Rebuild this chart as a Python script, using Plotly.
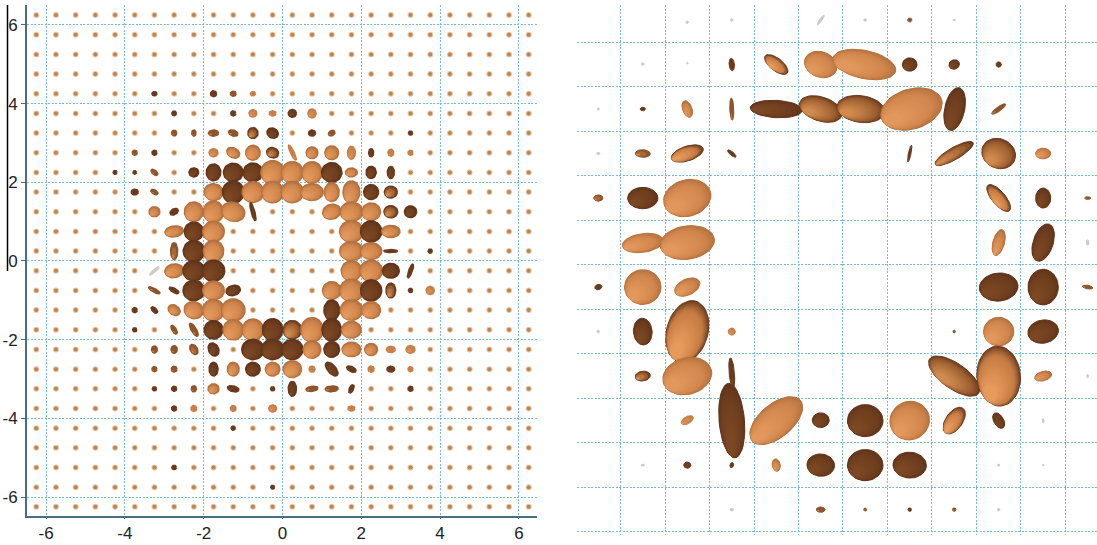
import math
import plotly.graph_objects as go

# Tone codes: 0 light, 1 half-shaded, 2 dark, 3 faint, 4 light with a dark rim
# ---- left panel, field of ellipsoids: one list per row, (x, semi-a, semi-b, angle, tone)
GRID_VALUES = [-6.25, -5.75, -5.25, -4.75, -4.25, -3.75, -3.25, -2.75, -2.25, -1.75, -1.25, -0.75, -0.25,
               0.25, 0.75, 1.25, 1.75, 2.25, 2.75, 3.25, 3.75, 4.25, 4.75, 5.25, 5.75, 6.25]
TICK_VALUES = [-6, -4, -2, 0, 2, 4, 6]
TICK_LABELS = ["-6", "-4", "-2", "0", "2", "4", "6"]

L_425 = [(-3.25, .06, .05, 0, 2), (-1.75, .075, .07, 0, 2), (-1.25, .07, .06, 0, 1), (-.75, .06, .05, 0, 0)]
L_375 = [(-2.75, .055, .055, 0, 2), (-1.25, .06, .06, 0, 2), (-.75, .095, .09, 0, 0), (-.25, .085, .06, 0, 0),
         (.25, .10, .095, 0, 2), (.75, .11, .10, 90, 0)]
L_325 = [(-2.75, .07, .06, 90, 1), (-2.25, .075, .05, 90, 1), (-1.75, .125, .075, 0, 1), (-1.25, .12, .07, -20, 1),
         (-.75, .135, .125, 90, 1), (-.25, .145, .12, -30, 2), (.75, .085, .075, 0, 2), (1.25, .085, .06, 30, 1),
         (3.25, .05, .05, 0, 2)]
L_275 = [(-3.75, .06, .06, 0, 1), (-3.25, .06, .06, 0, 2), (-1.75, .11, .10, 0, 0), (-1.25, .17, .12, -30, 0),
         (-.75, .185, .18, 90, 0), (-.25, .15, .125, -20, 1), (.25, .21, .042, -65, 0), (.75, .145, .145, 0, 0),
         (1.25, .17, .17, 0, 0), (1.75, .16, .095, 90, 0), (2.25, .10, .06, 90, 2), (2.75, .085, .07, 90, 0),
         (3.25, .06, .06, 0, 0)]
L_225 = [(-3.75, .04, .04, 0, 2), (-3.25, .10, .05, -40, 1), (-2.25, .12, .11, 0, 2), (-1.75, .21, .18, 90, 2),
         (-1.25, .245, .23, 0, 2), (-.75, .245, .235, 0, 2), (-.25, .295, .295, 0, 0), (.25, .27, .27, 0, 0),
         (.75, .27, .255, 90, 0), (1.25, .255, .245, 0, 2), (1.75, .145, .11, 0, 0), (2.25, .15, .125, 90, 2),
         (2.75, .15, .085, 90, 2)]
L_175 = [(-3.75, .085, .07, 0, 2), (-3.25, .095, .05, -30, 1), (-1.75, .235, .21, -10, 0), (-1.25, .28, .27, 90, 2),
         (-.75, .27, .26, 0, 0), (-.25, .27, .27, 0, 0), (.25, .28, .265, 0, 0), (.75, .28, .21, 0, 0),
         (1.25, .235, .185, 90, 0), (1.75, .28, .21, 90, 0), (2.25, .185, .185, 0, 2), (2.75, .16, .145, 0, 1)]
L_125 = [(-3.25, .135, .125, 0, 0), (-2.75, .11, .07, 30, 2), (-2.25, .245, .235, 90, 0), (-1.75, .27, .255, 90, 0),
         (-1.25, .295, .235, -20, 0), (-.75, .235, .042, -75, 2), (1.25, .23, .185, 15, 0), (1.75, .28, .245, 0, 0),
         (2.25, .235, .22, 0, 0), (2.75, .17, .15, 0, 1), (3.25, .15, .145, 0, 2)]
L_075 = [(-2.75, .23, .135, 8, 0), (-2.25, .24, .235, 0, 2), (-1.75, .27, .255, 0, 0), (1.75, .295, .27, 0, 0),
         (2.25, .265, .265, 0, 2), (2.75, .23, .15, 0, 0)]
L_025 = [(-2.75, .21, .085, 90, 1), (-2.25, .265, .265, 0, 2), (-1.75, .27, .255, 90, 0), (1.75, .295, .235, 0, 0),
         (2.25, .265, .21, 0, 0), (2.75, .17, .034, 0, 2), (3.75, .05, .05, 0, 2)]
L_M025 = [(-3.25, .15, .025, 40, 3), (-2.75, .235, .17, 8, 0), (-2.25, .27, .255, 0, 2), (-1.75, .28, .265, 0, 2),
          (1.75, .255, .255, 0, 0), (2.25, .28, .265, 0, 0), (2.75, .21, .185, 0, 2), (3.25, .185, .042, 70, 2)]
L_M075 = [(-3.25, .16, .042, -30, 1), (-2.75, .135, .05, -30, 2), (-2.25, .27, .255, 0, 2), (-1.75, .27, .235, 0, 0),
          (-1.25, .18, .125, 15, 2), (1.25, .23, .22, 0, 0), (1.75, .295, .28, 0, 0), (2.25, .265, .265, 0, 2),
          (2.75, .185, .12, 90, 1), (3.25, .05, .05, 0, 2), (3.75, .10, .10, 0, 0)]
L_M125 = [(-3.75, .06, .06, 0, 2), (-3.25, .10, .05, -45, 2), (-2.75, .16, .12, -35, 0), (-2.25, .245, .21, -20, 0),
          (-1.75, .27, .27, 0, 0), (-1.25, .295, .28, 0, 0), (1.25, .255, .195, 90, 2), (1.75, .28, .255, 0, 0),
          (2.25, .235, .21, 0, 0)]
L_M175 = [(-3.75, .05, .05, 0, 2), (-2.75, .125, .05, -60, 1), (-2.25, .185, .06, -60, 1), (-1.75, .235, .23, 0, 2),
          (-1.25, .255, .255, 0, 0), (-.75, .27, .265, 90, 0), (-.25, .28, .255, 90, 2), (.25, .23, .23, 0, 1),
          (.75, .305, .28, 90, 0), (1.25, .28, .245, 90, 2), (1.75, .245, .21, 0, 0)]
L_M225 = [(-3.25, .085, .07, 90, 1), (-2.75, .095, .075, 90, 1), (-2.25, .135, .085, -60, 1), (-1.75, .17, .125, -65, 2),
          (-.75, .28, .255, 0, 2), (-.25, .28, .255, 0, 2), (.25, .265, .255, 0, 2), (.75, .22, .22, 0, 0),
          (1.25, .195, .195, 0, 2), (1.75, .235, .18, 0, 0), (2.25, .16, .15, 0, 0), (2.75, .11, .075, 0, 0),
          (3.25, .11, .095, 0, 0)]
L_M275 = [(-3.25, .06, .06, 0, 1), (-2.75, .07, .07, 0, 1), (-1.75, .17, .11, 90, 2), (-1.25, .17, .145, 90, 0),
          (-.75, .18, .17, 0, 2), (-.25, .18, .17, 0, 0), (.25, .23, .21, 0, 0), (.75, .075, .07, 90, 0),
          (1.25, .21, .10, -50, 2), (1.75, .125, .06, -25, 2), (2.25, .075, .075, 0, 0), (2.75, .095, .07, 0, 2),
          (3.25, .06, .06, 0, 0)]
L_M325 = [(-3.25, .05, .05, 0, 2), (-2.75, .06, .06, 0, 2), (-2.25, .075, .06, 90, 1), (-1.75, .135, .125, 0, 0),
          (-1.25, .145, .07, -15, 2), (-.25, .05, .05, 0, 2), (.25, .185, .10, 90, 2), (.75, .15, .06, 8, 1),
          (1.25, .16, .07, 3, 1), (1.75, .11, .05, 65, 2), (3.25, .06, .06, 0, 2)]
L_M375 = [(-2.75, .06, .06, 0, 2), (-2.25, .07, .07, 0, 0), (-1.25, .07, .07, 0, 0), (-.25, .095, .085, 0, 0),
          (1.75, .085, .06, 0, 0)]
L_M425 = [(-1.25, .05, .05, 0, 2)]
L_M525 = [(-2.75, .055, .05, 0, 2)]
L_M575 = [(-.25, .045, .045, 0, 2)]
L_P225_OUTER = [(-4.25, .045, .045, 0, 2)]

LEFT_ROWS = {4.25: L_425, 3.75: L_375, 3.25: L_325, 2.75: L_275, 2.25: L_225 + L_P225_OUTER, 1.75: L_175,
             1.25: L_125, 0.75: L_075, 0.25: L_025, -0.25: L_M025, -0.75: L_M075, -1.25: L_M125, -1.75: L_M175,
             -2.25: L_M225, -2.75: L_M275, -3.25: L_M325, -3.75: L_M375, -4.25: L_M425, -5.25: L_M525,
             -5.75: L_M575}

# ---- right panel, enlarged view: one list per row, (column, row, semi-a, semi-b, angle, tone)
R_ROW0 = [(2, .05, .03, .03, 0, 3), (3, 0, .03, .03, 0, 3), (5, 0, .13, .03, 55, 3), (6, 0, .03, .03, 0, 3),
          (7, 0, .05, .045, 0, 1), (8, 0, .03, .02, 0, 3)]
R_ROW1 = [(1, .99, .03, .03, 0, 3), (2, .97, .02, .02, 0, 3), (3, 1, .14, .06, -85, 2), (4, 1, .315, .14, -38, 4),
          (5, 1, .375, .285, -20, 0), (5.98, 1, .72, .315, -12, 0), (7, 1, .165, .15, 0, 2), (8, 1, .12, .105, 20, 2),
          (9, 1, .06, .06, 0, 2)]
R_ROW2 = [(0, 2, .025, .025, 0, 3), (1, 2, .06, .04, 0, 2), (2, 2, .195, .105, -70, 0), (3, 2, .25, .045, -88, 1),
          (4, 2, .585, .195, -3, 2), (5, 2, .495, .27, -18, 1), (5.9, 2, .54, .30, -8, 1), (7.04, 2, .71, .45, 17, 0),
          (8.01, 2, .49, .225, 78, 2), (9, 2, .19, .05, 35, 1)]
R_ROW3 = [(0, 3, .035, .03, 0, 3), (1, 3, .17, .085, -3, 1), (2, 3, .375, .165, 18, 4), (3, 3, .12, .04, -40, 2),
          (7, 3, .19, .03, 78, 2), (8, 3, .49, .135, 30, 1), (9, 3, .39, .33, -25, 1), (10, 3, .17, .12, 0, 0)]
R_ROW4 = [(0, 4, .105, .07, 0, 1), (1, 4, .34, .24, 0, 2), (2, 4, .54, .41, 15, 0), (9, 4, .375, .15, -50, 4),
          (10, 4, .225, .17, 90, 2), (11, 4, .07, .03, 0, 1)]
R_ROW5 = [(1, 5.01, .465, .21, 8, 0), (2, 5, .615, .375, 8, 0), (9, 5, .30, .13, 75, 0), (10, 5, .435, .225, 72, 2),
          (11, 5, .06, .03, 90, 3)]
R_ROW6 = [(0, 6, .08, .06, 15, 2), (1, 6, .41, .39, 0, 0), (2, 6, .30, .18, 25, 0), (9, 6, .435, .315, 5, 2),
          (10, 6, .40, .34, 90, 2), (11, 6, .12, .04, -10, 1)]
R_ROW7 = [(0, 7, .03, .03, 0, 3), (1, 7, .30, .21, -85, 2), (2, 7, .71, .465, 75, 4), (3, 7, .08, .08, 0, 0),
          (8, 7, .03, .03, 0, 1), (9, 7, .34, .32, 0, 0), (10, 7, .345, .26, 10, 2)]
R_ROW8 = [(1, 8, .17, .11, 8, 1), (2, 8, .56, .41, 15, 0), (3, 7.93, .34, .06, -85, 2), (8, 8, .675, .285, -35, 1),
          (9, 8, .675, .49, -85, 4), (10, 8, .195, .105, 15, 0), (11, 8, .04, .02, 90, 3)]
R_ROW9 = [(2, 8.99, .15, .08, 30, 0), (3, 9, .84, .285, -85, 2), (4, 9, .71, .375, 40, 0), (5, 8.99, .19, .165, 0, 2),
          (6, 9, .40, .36, 0, 2), (7, 9, .45, .43, 30, 0), (8, 9, .34, .19, 55, 4), (9, 9, .19, .11, -60, 2),
          (10, 9, .05, .02, 90, 3)]
R_ROW10 = [(1, 10, .04, .02, 0, 3), (2, 10, .08, .07, 0, 2), (3, 10, .06, .04, 70, 2), (4, 10, .14, .09, -80, 0),
           (5, 10, .31, .25, -5, 2), (6, 10, .40, .35, 0, 2), (7, 10, .375, .29, -3, 2), (9, 10, .025, .025, 0, 3),
           (10, 10, .02, .02, 0, 3)]
R_ROW11 = [(3, 11, .04, .03, 0, 3), (5, 11, .10, .06, 0, 1), (6, 11, .035, .035, 0, 1), (7, 11, .04, .04, 0, 2),
           (8, 11, .04, .04, 0, 1), (9, 11, .03, .03, 0, 3)]
RIGHT_ROWS = [R_ROW0, R_ROW1, R_ROW2, R_ROW3, R_ROW4, R_ROW5, R_ROW6, R_ROW7, R_ROW8, R_ROW9, R_ROW10, R_ROW11]
R_GRID_X = [0.5, 1.5, 2.5, 3.5, 4.5, 5.5, 6.5, 7.5, 8.5, 9.5, 10.5]
R_GRID_Y = [0.5, 1.5, 2.5, 3.5, 4.5, 5.5, 6.5, 7.5, 8.5, 9.5, 10.5, 11.5]

# rim colour, body colour, lit colour per tone
SHADES = {
    0: ("#b4713f", "#cf854c", "#e2985c"),
    1: ("#6a3b1f", "#9d5f30", "#d08a4e"),
    2: ("#61341b", "#6d3d1e", "#7c4824"),
    3: ("#cfcac4", "#cfcac4", "#cfcac4"),
    4: ("#693a1e", "#c47b42", "#e69a5c"),
}
W, H = 1097, 545
N = 40
LIGHT = (-0.7071, -0.7071)  # towards the lower left of the screen


def mix(c1, c2, f):
    a = [int(c1[i:i + 2], 16) for i in (1, 3, 5)]
    b = [int(c2[i:i + 2], 16) for i in (1, 3, 5)]
    return "#%02x%02x%02x" % tuple(round(p + (q - p) * f) for p, q in zip(a, b))


def ellipse(cx, cy, a, b, ang, flip):
    t = math.radians(ang)
    xs, ys = [], []
    for k in range(N + 1):
        p = 2 * math.pi * k / N
        u, v = a * math.cos(p), b * math.sin(p)
        xs.append(cx + u * math.cos(t) - v * math.sin(t))
        ys.append(cy + flip * (u * math.sin(t) + v * math.cos(t)))
    return xs, ys


def add_ellipse(fig, cx, cy, a, b, ang, tone, flip, xa, ya, px_per_unit, edge):
    t = math.radians(ang)
    lu = LIGHT[0] * math.cos(t) + LIGHT[1] * math.sin(t)
    lv = -LIGHT[0] * math.sin(t) + LIGHT[1] * math.cos(t)
    norm = math.sqrt((a * lu) ** 2 + (b * lv) ** 2)
    su, sv = a * a * lu / norm, b * b * lv / norm
    sx = su * math.cos(t) - sv * math.sin(t)   # point of the outline nearest the light
    sy = su * math.sin(t) + sv * math.cos(t)
    rim, body, lit = SHADES[tone]
    minor_px = min(a, b) * px_per_unit
    layers = 1 if tone == 3 else max(2, min(20, int(minor_px / 1.0)))
    if layers < 4:
        rim = mix(rim, body, 0.7)
    for i in range(layers):
        f = i / max(layers - 1, 1)
        s = 1 - 0.72 * f ** 1.4
        col = mix(rim, body, min(f / 0.35, 1)) if f < 0.35 else mix(body, lit, (f - 0.35) / 0.65)
        ox = (1 - s) * 0.97 * sx
        oy = flip * (1 - s) * 0.97 * sy
        xs, ys = ellipse(cx + ox, cy + oy, a * s, b * s, ang, flip)
        fig.add_trace(go.Scatter(x=xs, y=ys, mode="lines", fill="toself", fillcolor=col,
                                 line=dict(width=edge if i == 0 else 0, color=col), xaxis=xa, yaxis=ya,
                                 hoverinfo="skip", showlegend=False))


fig = go.Figure()

# small background ellipsoids, drawn as dots at the grid points not listed in a row
taken = {(x, y) for y, row in LEFT_ROWS.items() for (x, *_) in row}
dx = [x for y in GRID_VALUES for x in GRID_VALUES if (x, y) not in taken]
dy = [y for y in GRID_VALUES for x in GRID_VALUES if (x, y) not in taken]
fig.add_trace(go.Scatter(x=dx, y=dy, mode="markers", marker=dict(size=6, color="#ecc6a4", line=dict(width=0)),
                         xaxis="x", yaxis="y", hoverinfo="skip", showlegend=False))
fig.add_trace(go.Scatter(x=dx, y=dy, mode="markers", marker=dict(size=4, color="#b98450", line=dict(width=0)),
                         xaxis="x", yaxis="y", hoverinfo="skip", showlegend=False))

for y in sorted(LEFT_ROWS, reverse=True):
    for (x, a, b, ang, tone) in LEFT_ROWS[y]:
        add_ellipse(fig, x, y, a, b, ang, tone, 1, "x", "y", 39.4, 1.8)

for row in RIGHT_ROWS:
    for (c, r, a, b, ang, tone) in row:
        add_ellipse(fig, c, r, a, b, ang, tone, -1, "x2", "y2", 44.5, 1.0)

GRID = "#74b8da"
DOT = "2px,1.5px"
axis_font = dict(family="Liberation Sans, Arial, sans-serif", size=17, color="#222222")
fig.update_layout(
    width=W, height=H, autosize=False, margin=dict(l=0, r=0, t=0, b=0),
    paper_bgcolor="white", plot_bgcolor="white", showlegend=False,
    xaxis=dict(domain=[27 / W, 537 / W], range=[-6.485, 6.46], tickmode="array", tickvals=TICK_VALUES,
               ticktext=TICK_LABELS, showgrid=True, gridcolor=GRID, griddash=DOT, gridwidth=1, zeroline=False,
               showline=True, linecolor="#46707e", linewidth=2, ticks="outside", ticklen=1, tickcolor="#46707e",
               tickfont=axis_font, anchor="y"),
    yaxis=dict(domain=[(H - 515.5) / H, (H - 5) / H], range=[-6.47, 6.505], tickmode="array", tickvals=TICK_VALUES,
               ticktext=TICK_LABELS, showgrid=True, gridcolor=GRID, griddash=DOT, gridwidth=1, zeroline=False,
               showline=True, linecolor="#46707e", linewidth=2, ticks="outside", ticklen=4, tickcolor="#46707e",
               tickfont=axis_font, anchor="x"),
    xaxis2=dict(domain=[577 / W, 1.0], range=[-0.479, 11.21], tickmode="array", tickvals=R_GRID_X,
                showticklabels=False, showgrid=True, gridcolor=GRID, griddash=DOT, gridwidth=1.4, zeroline=False,
                showline=False, ticks="", anchor="y2"),
    yaxis2=dict(domain=[(H - 535) / H, (H - 5) / H], range=[11.57, -0.337], tickmode="array", tickvals=R_GRID_Y,
                showticklabels=False, showgrid=True, gridcolor=GRID, griddash=DOT, gridwidth=1.4, zeroline=False,
                showline=False, ticks="", anchor="x2"),
    shapes=[dict(type="line", xref="paper", yref="paper", x0=7.5 / W, x1=7.5 / W, y0=(H - 271) / H, y1=(H - 5) / H,
                 line=dict(color="black", width=1.5))],
)
fig.write_html("out.html", config={"displayModeBar": False}, post_script="document.body.style.margin='0';")
